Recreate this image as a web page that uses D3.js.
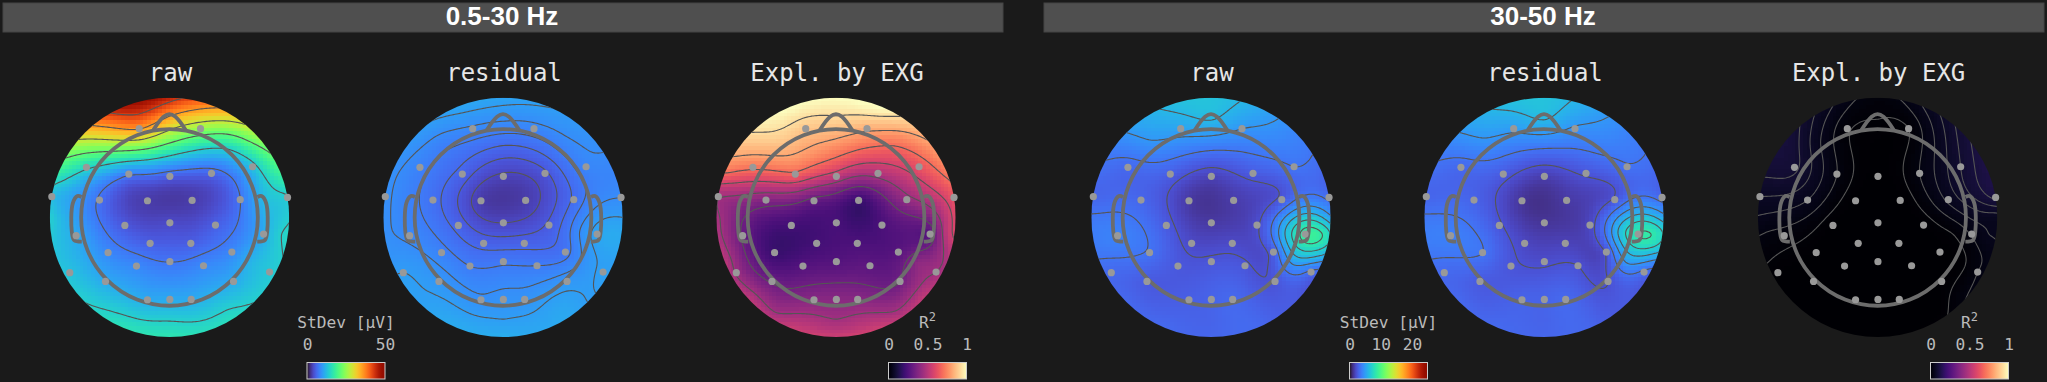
<!DOCTYPE html>
<html>
<head>
<meta charset="utf-8">
<script src="https://cdn.jsdelivr.net/npm/d3@7"></script>
<style>
html, body { margin: 0; padding: 0; background: #1a1a1a; overflow: hidden; }
svg { display: block; }
</style>
</head>
<body>
<svg></svg>
<script>
// sensor positions, in units of the map radius
var sensorX = [-0.253, 0.259, -0.694, -0.340, 0.003, 0.351, 0.694, -0.983, -0.585, -0.184, 0.189, 0.591, 0.986, -0.780, -0.373, 0.003, 0.384, 0.786, -0.513, -0.162, 0.178, 0.521, -0.833, -0.276, 0.003, 0.284, 0.836, -0.535, 0.535, -0.184, 0.003, 0.181];
var sensorY = [0.741, 0.741, 0.418, 0.362, 0.343, 0.368, 0.423, 0.173, 0.145, 0.139, 0.142, 0.148, 0.167, -0.153, -0.067, -0.045, -0.064, -0.139, -0.295, -0.217, -0.217, -0.290, -0.462, -0.407, -0.370, -0.404, -0.457, -0.535, -0.535, -0.688, -0.685, -0.685];

// rim points (clockwise from the top), then a few readings between sensors
var extraX = [0, 0.38, 0.71, 0.92, 1, 0.92, 0.71, 0.38, 0, -0.38, -0.71, -0.92, -1, -0.92, -0.71, -0.38, 0, 0, -0.5, 0.5, 0, -0.5, 0.5, 0.93, 0.69, 0.8, 0.64, -0.92];
var extraY = [1, 0.92, 0.71, 0.38, 0, -0.38, -0.71, -0.92, -1, -0.92, -0.71, -0.38, 0, 0.38, 0.71, 0.92, 0.6, 0.85, 0.62, 0.62, -0.85, -0.78, -0.78, -0.14, -0.38, 0.14, -0.12, -0.12];

// values read at sensors + extra points
var raw05 = [36, 25, 15, 7.6, 5.5, 6, 13, 12.5, 6.8, 3, 3, 7.1, 14, 11, 5, 4, 5.5, 11, 8.5, 5.5, 5.5, 8.5, 13, 8.5, 7.1, 8.5, 13.5, 11, 11, 11, 11, 11,
    45, 36, 26.5, 18.5, 14, 14, 14.3, 15.5, 16.5, 16, 14.3, 13, 14, 17.5, 32, 46,
    20, 36, 26.5, 17, 14, 14.3, 14.5, 14.2, 12, 12.5, 8.5, 12.5];
var residual05 = [8.5, 8.25, 8, 5.75, 3.5, 4.75, 8.25, 9, 6.75, 3, 3, 6.5, 8.75, 8.5, 5.75, 3.75, 5.25, 10.5, 8, 5.75, 5.75, 7, 10, 7.5, 7.25, 7.5, 10.25, 9.5, 9.5, 9, 9.25, 9.25,
    10.5, 10, 9.25, 8.25, 10, 10.25, 10, 10.75, 11.25, 11, 10.25, 9.5, 9, 9, 9.75, 10.5,
    6.25, 9.25, 8, 8.25, 10, 10.5, 10.75, 11, 9.25, 8.5, 8.75, 8.75];
var expl05 = [0.88, 0.83, 0.71, 0.67, 0.52, 0.49, 0.63, 0.46, 0.38, 0.3, 0.2, 0.42, 0.63, 0.32, 0.22, 0.23, 0.24, 0.28, 0.2, 0.22, 0.24, 0.27, 0.44, 0.26, 0.26, 0.28, 0.45, 0.32, 0.33, 0.39, 0.39, 0.39,
    1, 1, 0.84, 0.72, 0.6, 0.47, 0.53, 0.55, 0.55, 0.54, 0.52, 0.5, 0.47, 0.7, 0.93, 1,
    0.77, 0.93, 0.88, 0.71, 0.45, 0.44, 0.45, 0.52, 0.4, 0.5, 0.27, 0.42];
var raw30 = [5.25, 4.75, 3.1, 2.75, 1.75, 2.6, 3.5, 3, 3, 1.4, 1.5, 2.5, 3.25, 4, 2.6, 1.4, 2.1, 9, 3.4, 2, 2, 2.75, 3.1, 2.5, 2.4, 2.4, 3.25, 2.6, 2.4, 2.75, 2.9, 3.1,
    6.5, 5.5, 4.1, 3.1, 5, 4.5, 2.6, 3.1, 3, 3.1, 3.1, 3.4, 3.6, 3.25, 4.75, 6.1,
    3.9, 6.25, 4.6, 4.1, 2.9, 2.9, 2.75, 8.5, 5, 4, 6.5, 3.9];
var residual30 = [5, 4.6, 3.1, 2.6, 1.6, 2.4, 3.4, 3, 2.9, 1.25, 1.4, 2.4, 3.1, 3.9, 2.4, 1.25, 1.9, 8.5, 3.5, 1.9, 1.75, 2.4, 3.1, 2.4, 2.1, 2.25, 3.25, 2.6, 2.25, 2.9, 2.9, 3.1,
    6.5, 5.4, 4, 3.1, 5.25, 4.25, 2.6, 3, 3, 3.1, 3.1, 3.4, 3.6, 3.25, 4.75, 6.1,
    3.75, 6.25, 4.5, 4, 2.9, 2.9, 2.6, 8.25, 4.75, 3.9, 6.5, 3.9];
var expl30 = [0.015, 0.012, 0.095, 0.03, 0.002, 0.03, 0.09, 0.07, 0.05, 0.001, 0.001, 0.055, 0.115, 0.022, 0.002, 0, 0.003, 0.032, 0.002, 0, 0, 0.002, 0.004, 0, 0, 0, 0.03, 0.001, 0.003, 0, 0, 0,
    0.022, 0.05, 0.1, 0.125, 0.06, 0.035, 0.028, 0.004, 0.002, 0.002, 0.003, 0.012, 0.048, 0.095, 0.1, 0.05,
    0.003, 0.014, 0.055, 0.055, 0, 0.001, 0.002, 0.05, 0.006, 0.085, 0.015, 0.03];

// contour levels of each map
var levelsRaw05 = [7.14, 14.3, 21.4, 28.6, 35.7, 42.9];
var levelsResidual05 = [3.75, 5, 6.25, 7.5, 8.75, 10];
var levelsExpl05 = [0.33, 0.45, 0.57, 0.69, 0.81, 0.93];
var levelsRaw30 = [2.25, 3.5, 4.75, 6, 7.25, 8.5];
var levelsResidual30 = [2.25, 3.5, 4.75, 6, 7.25, 8.5];
var levelsExpl30 = [0.012, 0.03, 0.05, 0.07, 0.09, 0.11];

var bandLabels = ["0.5-30 Hz", "30-50 Hz"];
var mapTitles = ["raw", "residual", "Expl. by EXG", "raw", "residual", "Expl. by EXG"];
var stdevTicks05 = [0, 50];
var stdevTicks30 = [0, 10, 20];
var r2Ticks = [0, 0.5, 1];

// head outline, same units
var noseX = [-0.135, -0.05, 0, 0.05, 0.135];
var noseY = [0.73, 0.84, 0.862, 0.84, 0.73];
var earX = [0.735, 0.769, 0.808, 0.816, 0.797, 0.733];
var earY = [0.17, 0.178, 0.117, -0.12, -0.189, -0.203];

const svgWidth = 2047, svgHeight = 382;
const radius = 119.7, cy = 217.4, headRadius = 0.738;
const res = 64, contourRes = 160;

var anchorX = sensorX.concat(extraX);
var anchorY = sensorY.concat(extraY);

var turbo05 = d3.scaleSequential(d3.interpolateTurbo).domain([0, 50]);
var turbo30 = d3.scaleSequential(d3.interpolateTurbo).domain([0, 25]);
var magma = d3.scaleSequential(d3.interpolateMagma).domain([0, 1]);

var maps = [
    { cx: 169.5, title: mapTitles[0], values: raw05, levels: levelsRaw05, color: turbo05 },
    { cx: 503, title: mapTitles[1], values: residual05, levels: levelsResidual05, color: turbo05 },
    { cx: 836, title: mapTitles[2], values: expl05, levels: levelsExpl05, color: magma },
    { cx: 1211, title: mapTitles[3], values: raw30, levels: levelsRaw30, color: turbo30 },
    { cx: 1544, title: mapTitles[4], values: residual30, levels: levelsResidual30, color: turbo30 },
    { cx: 1877.6, title: mapTitles[5], values: expl30, levels: levelsExpl30, color: magma }
];

var bars = [
    { x: 307, label: "StDev [µV]", color: d3.interpolateTurbo, domain: [0, 50], ticks: stdevTicks05 },
    { x: 888.5, label: "R2", color: d3.interpolateMagma, domain: [0, 1], ticks: r2Ticks },
    { x: 1349.5, label: "StDev [µV]", color: d3.interpolateTurbo, domain: [0, 25], ticks: stdevTicks30 },
    { x: 1930.5, label: "R2", color: d3.interpolateMagma, domain: [0, 1], ticks: r2Ticks }
];

function kernel(d2) {
    return d2 > 0 ? 0.5 * d2 * Math.log(d2) : 0;
}

// thin plate surface through the read values, only used to paint between them
function fitSurface(values) {
    var n = anchorX.length, size = n + 3;
    var A = d3.range(size).map(() => new Float64Array(size + 1));
    for (var i = 0; i < n; i++) {
        for (var j = 0; j < n; j++) {
            var dx = anchorX[i] - anchorX[j], dy = anchorY[i] - anchorY[j];
            A[i][j] = kernel(dx * dx + dy * dy);
        }
        A[i][n] = A[n][i] = 1;
        A[i][n + 1] = A[n + 1][i] = anchorX[i];
        A[i][n + 2] = A[n + 2][i] = anchorY[i];
        A[i][size] = values[i];
    }
    for (var c = 0; c < size; c++) {
        var p = c;
        for (var r = c + 1; r < size; r++) if (Math.abs(A[r][c]) > Math.abs(A[p][c])) p = r;
        var t = A[c]; A[c] = A[p]; A[p] = t;
        for (var r2 = c + 1; r2 < size; r2++) {
            var f = A[r2][c] / A[c][c];
            for (var k = c; k <= size; k++) A[r2][k] -= f * A[c][k];
        }
    }
    var w = new Float64Array(size);
    for (var a = size - 1; a >= 0; a--) {
        var s = A[a][size];
        for (var b = a + 1; b < size; b++) s -= A[a][b] * w[b];
        w[a] = s / A[a][a];
    }
    return function(x, y) {
        var v = w[n] + w[n + 1] * x + w[n + 2] * y;
        for (var i = 0; i < n; i++) {
            var dx = x - anchorX[i], dy = y - anchorY[i];
            v += w[i] * kernel(dx * dx + dy * dy);
        }
        return v;
    };
}

var svg = d3.select("svg")
    .attr("width", svgWidth)
    .attr("height", svgHeight);

// band headers
var bands = svg.append("g").selectAll("g")
    .data(bandLabels)
    .enter()
    .append("g")
    .attr("transform", (d, i) => "translate(" + (i === 0 ? 3 : 1044) + ",3)");

bands.append("rect")
    .attr("width", 1000)
    .attr("height", 29)
    .attr("fill", "#4f4f4f")
    .attr("stroke", "#444444");

bands.append("text")
    .attr("x", 499)
    .attr("y", 21.5)
    .attr("text-anchor", "middle")
    .attr("font-family", "Liberation Sans")
    .attr("font-weight", "bold")
    .attr("font-size", 26)
    .attr("fill", "#ffffff")
    .text(d => d);

// one topomap
maps.forEach(function(m, idx) {
    var x = d3.scaleLinear().domain([-1, 1]).range([m.cx - radius, m.cx + radius]);
    var y = d3.scaleLinear().domain([-1, 1]).range([cy + radius, cy - radius]);
    var surface = fitSurface(m.values);
    var g = svg.append("g");

    g.append("clipPath")
        .attr("id", "clip" + idx)
        .append("circle")
        .attr("cx", x(0))
        .attr("cy", y(0))
        .attr("r", radius);

    // field image
    var canvas = document.createElement("canvas");
    canvas.width = res;
    canvas.height = res;
    var ctx = canvas.getContext("2d");
    var ux = d3.scaleLinear().domain([0, res]).range([-1, 1]);
    var uy = d3.scaleLinear().domain([0, res]).range([1, -1]);
    for (var j = 0; j < res; j++) {
        for (var i = 0; i < res; i++) {
            ctx.fillStyle = m.color(surface(ux(i + 0.5), uy(j + 0.5)));
            ctx.fillRect(i, j, 1, 1);
        }
    }
    g.append("image")
        .attr("href", canvas.toDataURL())
        .attr("x", x(-1))
        .attr("y", y(1))
        .attr("width", radius * 2)
        .attr("height", radius * 2)
        .attr("preserveAspectRatio", "none")
        .style("image-rendering", "pixelated")
        .attr("clip-path", "url(#clip" + idx + ")");

    // contour lines
    var gx = d3.scaleLinear().domain([0, contourRes]).range([-1.05, 1.05]);
    var gy = d3.scaleLinear().domain([0, contourRes]).range([1.05, -1.05]);
    var grid = new Float64Array(contourRes * contourRes);
    for (var r = 0; r < contourRes; r++) {
        for (var c = 0; c < contourRes; c++) {
            grid[r * contourRes + c] = surface(gx(c + 0.5), gy(r + 0.5));
        }
    }
    var contours = d3.contours().size([contourRes, contourRes]).thresholds(m.levels)(grid);
    var path = d3.geoPath(d3.geoTransform({
        point: function(a, b) { this.stream.point(x(gx(a)), y(gy(b))); }
    }));
    g.append("g")
        .attr("clip-path", "url(#clip" + idx + ")")
        .selectAll("path")
        .data(contours)
        .enter()
        .append("path")
        .attr("d", path)
        .attr("fill", "none")
        .attr("stroke", "#555555")
        .attr("stroke-width", 1.1);

    // head
    var head = g.append("g")
        .attr("fill", "none")
        .attr("stroke", "#6c6c6c")
        .attr("stroke-width", 3.8)
        .attr("stroke-linejoin", "round");
    head.append("circle")
        .attr("cx", x(0))
        .attr("cy", y(0))
        .attr("r", x(headRadius) - x(0));
    var line = d3.line().x(d => x(d[0])).y(d => y(d[1])).curve(d3.curveCatmullRom);
    head.append("path").attr("d", line(d3.zip(noseX, noseY)));
    head.append("path").attr("d", line(d3.zip(earX, earY)));
    head.append("path").attr("d", line(d3.zip(earX.map(v => -v), earY)));

    g.append("g")
        .selectAll("circle")
        .data(d3.zip(sensorX, sensorY))
        .enter()
        .append("circle")
        .attr("cx", d => x(d[0]))
        .attr("cy", d => y(d[1]))
        .attr("r", 3.6)
        .attr("fill", "#999999");

    g.append("text")
        .attr("x", m.cx + 1)
        .attr("y", 81)
        .attr("text-anchor", "middle")
        .attr("font-family", "DejaVu Sans Mono")
        .attr("font-size", 24)
        .attr("fill", "#e6e6e6")
        .text(m.title);
});

// colour bars
const barWidth = 78, barTop = 362.5, barHeight = 16.5;
var defs = svg.append("defs");
bars.forEach(function(b, i) {
    var grad = defs.append("linearGradient").attr("id", "bar" + i);
    d3.range(0, 1.001, 0.04).forEach(function(t) {
        grad.append("stop").attr("offset", t).attr("stop-color", b.color(t));
    });
    svg.append("rect")
        .attr("x", b.x)
        .attr("y", barTop)
        .attr("width", barWidth)
        .attr("height", barHeight)
        .attr("fill", "url(#bar" + i + ")")
        .attr("stroke", "#cccccc")
        .attr("stroke-width", 1);

    var scale = d3.scaleLinear().domain(b.domain).range([b.x, b.x + barWidth]);
    var axis = svg.append("g")
        .attr("transform", "translate(0,350)")
        .call(d3.axisTop(scale).tickValues(b.ticks).tickSize(0).tickPadding(0).tickFormat(d3.format("")));
    axis.select(".domain").remove();
    axis.selectAll("text")
        .attr("font-family", "DejaVu Sans Mono")
        .attr("font-size", 16.2)
        .attr("fill", "#bbbbbb");

    var label = svg.append("text")
        .attr("x", b.x + barWidth / 2)
        .attr("y", 328)
        .attr("text-anchor", "middle")
        .attr("font-family", "DejaVu Sans Mono")
        .attr("font-size", 16.2)
        .attr("fill", "#bbbbbb");
    if (b.label === "R2") {
        label.append("tspan").text("R");
        label.append("tspan").attr("dy", -7).attr("font-size", 12).text("2");
    } else {
        label.text(b.label);
    }
});
</script>
</body>
</html>
